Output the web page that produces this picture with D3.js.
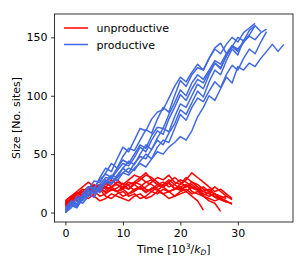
<!DOCTYPE html>
<html>
<head>
<meta charset="utf-8">
<script src="https://cdn.jsdelivr.net/npm/d3@7"></script>
<style>
  body { margin: 0; background: #fff; }
  text { font-family: "DejaVu Sans", sans-serif; }
</style>
</head>
<body>
<div id="chart"></div>
<script>
// Layout
const width = 307;
const height = 273;
const margin = {left: 54.5, top: 14, right: 14, bottom: 51};

// Data: sizes sampled once per time unit (10^3/k_D), starting at t = 0
const productive = [
  [0, 8, 6, 14, 22, 20, 30, 38, 35, 46, 56, 52, 62, 72, 70, 80, 86, 88, 98, 108, 116, 112, 120, 127, 122, 132, 140, 136, 144, 150, 146, 154, 158, 162],
  [2, 6, 14, 11, 20, 27, 26, 34, 42, 38, 48, 55, 53, 62, 71, 68, 80, 90, 86, 100, 113, 108, 118, 124, 122, 132, 141, 145, 136, 142, 150, 147, 156, 160],
  [4, 10, 7, 16, 22, 21, 28, 33, 30, 38, 45, 42, 50, 58, 55, 66, 73, 72, 84, 94, 105, 100, 111, 118, 114, 122, 130, 127, 136, 143, 140, 146, 151, 148, 154, 157],
  [1, 7, 5, 12, 19, 16, 24, 30, 29, 36, 42, 40, 47, 56, 52, 62, 70, 67, 80, 90, 101, 96, 106, 114, 111, 120, 128, 124, 134, 142, 139, 146, 152, 160, 155],
  [0, 4, 10, 8, 14, 20, 17, 26, 32, 30, 38, 44, 41, 50, 58, 54, 64, 72, 69, 82, 93, 90, 100, 110, 106, 118, 128, 123, 134, 142, 138, 146, 152],
  [3, 9, 7, 13, 18, 17, 22, 28, 25, 32, 38, 34, 42, 48, 46, 54, 62, 58, 68, 76, 88, 84, 94, 104, 99, 112, 122, 118, 130, 140, 135, 148],
  [2, 6, 12, 10, 16, 22, 19, 26, 30, 27, 34, 38, 36, 44, 50, 46, 56, 62, 60, 72, 84, 79, 90, 98, 95, 104, 112, 107, 118, 126, 122, 132, 140, 136, 146, 155],
  [0, 6, 4, 12, 16, 13, 22, 26, 24, 30, 34, 32, 38, 42, 39, 46, 52, 50, 56, 60, 65, 62, 70, 82, 90, 100, 96, 106, 116, 111, 125, 122, 128, 125, 132, 138, 144, 138, 144]
];

const unproductive = [
  [8, 12, 16, 20, 18, 22, 24, 20, 22, 26, 24, 28, 32, 30, 26, 28, 24, 26, 22, 24, 28, 26, 22, 20, 18, 16, 14, 12, 10],
  [6, 10, 14, 12, 16, 18, 14, 16, 20, 18, 14, 16, 20, 22, 18, 20, 24, 22, 18, 20, 22, 18, 14, 10, 2],
  [4, 8, 12, 16, 20, 18, 22, 26, 22, 18, 20, 24, 26, 30, 34, 28, 24, 22, 26, 20, 22, 24, 18, 16, 14, 10, 8, 1],
  [10, 14, 18, 22, 26, 22, 20, 24, 28, 24, 22, 26, 24, 20, 22, 26, 30, 28, 32, 26, 24, 28, 34, 30, 26, 22, 18, 20, 16, 12],
  [7, 12, 10, 14, 12, 16, 20, 14, 12, 16, 18, 14, 16, 12, 14, 18, 16, 20, 18, 14, 16, 18, 22, 20, 16, 14, 16, 12, 10, 7],
  [5, 9, 14, 18, 22, 20, 24, 22, 26, 28, 24, 20, 24, 28, 32, 30, 26, 22, 26, 30, 26, 22, 24, 20, 22, 18, 16, 14, 12],
  [9, 11, 13, 12, 16, 14, 10, 12, 16, 14, 12, 10, 14, 16, 12, 14, 18, 16, 12, 14, 18, 20, 16, 18, 14, 12, 10, 12, 9, 8],
  [6, 13, 17, 15, 19, 23, 21, 17, 19, 21, 25, 23, 19, 21, 17, 21, 19, 23, 25, 21, 19, 23, 21, 19, 15, 17, 13, 11, 9],
  [8, 10, 16, 18, 14, 20, 18, 22, 20, 18, 22, 20, 26, 24, 20, 18, 22, 24, 28, 24, 20, 22, 26, 24, 20, 18, 22, 18, 14, 11],
  [10, 14, 12, 16, 20, 24, 20, 18, 22, 24, 20, 16, 18, 22, 26, 24, 20, 16, 18, 20, 24, 30, 26, 22, 18, 20, 16, 12, 14]
];

const xTicks = [0, 10, 20, 30];
const yTicks = [0, 50, 100, 150];
const legendLabels = ["unproductive", "productive"];
const colors = ["#ff0000", "#4169e1"];

// Scales
const x = d3.scaleLinear().domain([-1.9, 39.6]).range([margin.left, width - margin.right]);
const y = d3.scaleLinear().domain([-8.1, 170]).range([height - margin.bottom, margin.top]);

const svg = d3.select("#chart").append("svg")
  .attr("width", width)
  .attr("height", height);

const line = d3.line()
  .x((d, i) => x(i))
  .y(d => y(d));

const plot = svg.append("g");

plot.selectAll("path.red").data(unproductive).join("path")
  .attr("class", "red")
  .attr("d", line)
  .attr("fill", "none")
  .attr("stroke", colors[0])
  .attr("stroke-width", 1.5)
  .attr("stroke-linejoin", "round");

plot.selectAll("path.blue").data(productive).join("path")
  .attr("class", "blue")
  .attr("d", line)
  .attr("fill", "none")
  .attr("stroke", colors[1])
  .attr("stroke-width", 1.5)
  .attr("stroke-linejoin", "round");

// Axes
const xAxis = svg.append("g")
  .attr("transform", `translate(0,${height - margin.bottom})`)
  .call(d3.axisBottom(x).tickValues(xTicks).tickSize(3.5).tickPadding(3.5));

const yAxis = svg.append("g")
  .attr("transform", `translate(${margin.left},0)`)
  .call(d3.axisLeft(y).tickValues(yTicks).tickSize(3.5).tickPadding(3.5));

[xAxis, yAxis].forEach(a => {
  a.select(".domain").remove();
  a.selectAll("line").attr("stroke", "#000").attr("stroke-width", 0.8);
  a.selectAll("text").attr("font-size", 11).attr("fill", "#000")
    .style("font-family", "DejaVu Sans");
});

// Frame
svg.append("rect")
  .attr("x", margin.left)
  .attr("y", margin.top)
  .attr("width", width - margin.left - margin.right)
  .attr("height", height - margin.top - margin.bottom)
  .attr("fill", "none")
  .attr("stroke", "#000")
  .attr("stroke-width", 0.8);

// Axis labels
const xLabel = svg.append("text")
  .attr("x", (margin.left + width - margin.right) / 2)
  .attr("y", 252.5)
  .attr("text-anchor", "middle")
  .attr("font-size", 11);
xLabel.append("tspan").text("Time [10");
xLabel.append("tspan").attr("dy", -4).attr("font-size", 7.5).text("3");
xLabel.append("tspan").attr("dy", 4).text("/");
xLabel.append("tspan").attr("font-style", "italic").text("k");
xLabel.append("tspan").attr("dy", 2).attr("font-size", 7.5).attr("font-style", "italic").text("D");
xLabel.append("tspan").attr("dy", -2).text("]");

svg.append("text")
  .attr("transform", `translate(20,${(margin.top + height - margin.bottom) / 2}) rotate(-90)`)
  .attr("text-anchor", "middle")
  .attr("font-size", 11)
  .text("Size [No. sites]");

// Legend
const legend = svg.append("g");
legendLabels.forEach((lab, i) => {
  const ly = 28 + i * 16.5;
  legend.append("line")
    .attr("x1", 64).attr("x2", 88)
    .attr("y1", ly).attr("y2", ly)
    .attr("stroke", colors[i])
    .attr("stroke-width", 1.5);
  legend.append("text")
    .attr("x", 96.5).attr("y", ly + 4)
    .attr("font-size", 11)
    .text(lab);
});
</script>
</body>
</html>
